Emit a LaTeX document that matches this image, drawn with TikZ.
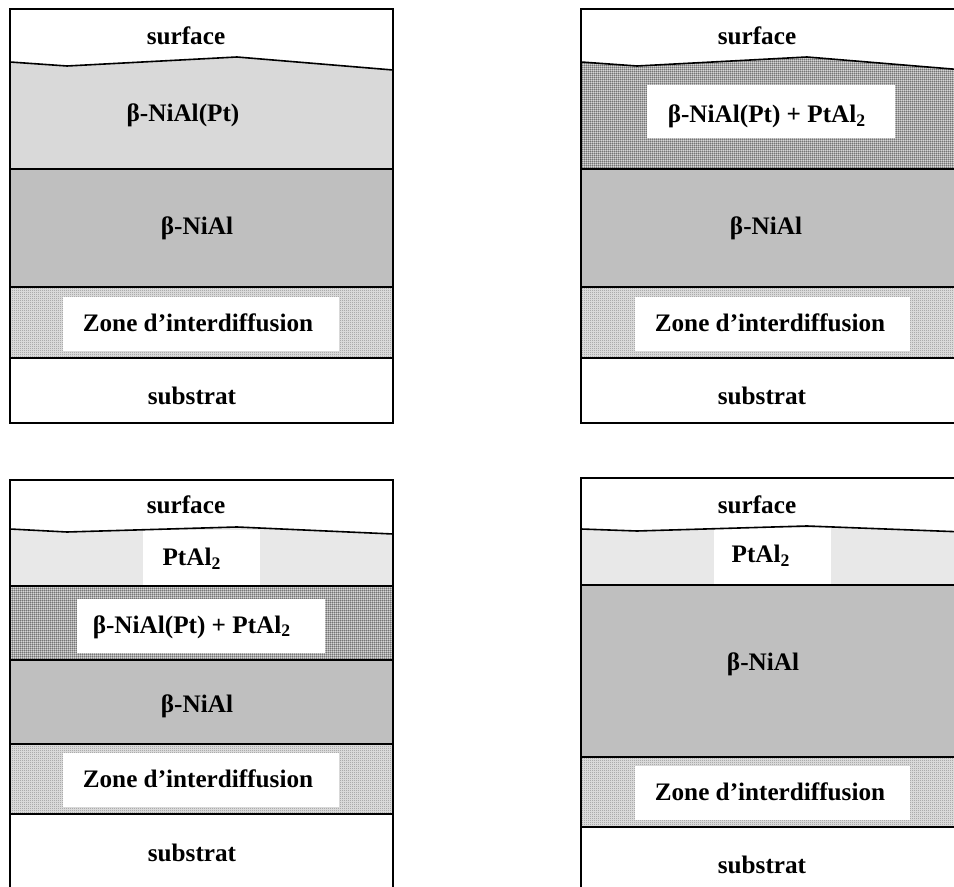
\documentclass[tikz,border=0pt]{standalone}
\usepackage{fontspec}
\setmainfont{Liberation Serif}
\usetikzlibrary{patterns}
\pgfdeclarepatternformonly{finegrid}{\pgfpointorigin}{\pgfqpoint{1.1pt}{1.1pt}}{\pgfqpoint{1.1pt}{1.1pt}}{%
  \pgfpathrectangle{\pgfpointorigin}{\pgfqpoint{1.1pt}{0.4pt}}%
  \pgfpathrectangle{\pgfpointorigin}{\pgfqpoint{0.4pt}{1.1pt}}%
  \pgfusepath{fill}}
\pgfdeclarepatternformonly{finedots}{\pgfpointorigin}{\pgfqpoint{1pt}{1pt}}{\pgfqpoint{1pt}{1pt}}{%
  \pgfpathrectangle{\pgfpointorigin}{\pgfqpoint{0.5pt}{0.5pt}}%
  \pgfpathrectangle{\pgfqpoint{0.5pt}{0.5pt}}{\pgfqpoint{0.5pt}{0.5pt}}%
  \pgfusepath{fill}}
\definecolor{ptnial}{gray}{0.85}
\definecolor{nial}{gray}{0.75}
\definecolor{ptal}{gray}{0.91}
\definecolor{zonebase}{gray}{0.90}
\definecolor{zonedot}{gray}{0.55}
\definecolor{mixbase}{gray}{0.84}
\definecolor{mixline}{gray}{0.42}
\tikzset{
  frame/.style={draw=black, line width=0.8pt},
  lbl/.style={anchor=base, font=\fontsize{12.6}{15}\selectfont\bfseries},
  zonefill/.style={pattern=finedots, pattern color=zonedot},
  mixfill/.style={pattern=finegrid, pattern color=mixline}
}
\begin{document}
\begin{tikzpicture}[x=0.5pt, y=-0.5pt]
  \useasboundingbox (0,0) rectangle (954,887);
  \clip (0,0) rectangle (954,887);
  % Panel 1: top left
  \fill[ptnial] (10,62) -- (67,66) -- (237,57) -- (393,70) -- (393,169) -- (10,169) -- cycle;
  \fill[nial] (10,169) rectangle (393,287);
  \fill[zonebase] (10,287) rectangle (393,358); \fill[zonefill] (10,287) rectangle (393,358);
  \fill[white] (63,297) rectangle (339,351);
  \draw[frame] (10,9) rectangle (393,423);
  \draw[frame] (10,62) -- (67,66) -- (237,57) -- (393,70);
  \draw[frame] (10,169) -- (393,169);
  \draw[frame] (10,287) -- (393,287);
  \draw[frame] (10,358) -- (393,358);
  \node[lbl] (surfA) at (186,45) {surface};
  \node[lbl] (ptnialA) at (183,122) {β-NiAl(Pt)};
  \node[lbl] (nialA) at (197,235) {β-NiAl};
  \node[lbl] (zoneA) at (198,332) {Zone d’interdiffusion};
  \node[lbl] (subA) at (192,405) {substrat};
  % Panel 2: top right
  \fill[mixbase] (581,62) -- (637,66) -- (807,57) -- (964,70) -- (964,169) -- (581,169) -- cycle;
  \fill[mixfill] (581,62) -- (637,66) -- (807,57) -- (964,70) -- (964,169) -- (581,169) -- cycle;
  \fill[white] (647,85) rectangle (895,138);
  \fill[nial] (581,169) rectangle (964,287);
  \fill[zonebase] (581,287) rectangle (964,358); \fill[zonefill] (581,287) rectangle (964,358);
  \fill[white] (635,297) rectangle (910,351);
  \draw[frame] (581,9) rectangle (964,423);
  \draw[frame] (581,62) -- (637,66) -- (807,57) -- (964,70);
  \draw[frame] (581,169) -- (964,169);
  \draw[frame] (581,287) -- (964,287);
  \draw[frame] (581,358) -- (964,358);
  \node[lbl] (surfB) at (757,45) {surface};
  \node[lbl] (mixB) at (767,123) {β-NiAl(Pt) + PtAl\textsubscript{2}};
  \node[lbl] (nialB) at (766,235) {β-NiAl};
  \node[lbl] (zoneB) at (770,332) {Zone d’interdiffusion};
  \node[lbl] (subB) at (762,405) {substrat};
  % Panel 3: bottom left
  \fill[ptal] (10,529) -- (67,532) -- (237,527) -- (393,534) -- (393,586) -- (10,586) -- cycle;
  \fill[white] (143,530) rectangle (260,586);
  \fill[mixbase] (10,586) rectangle (393,660); \fill[mixfill] (10,586) rectangle (393,660);
  \fill[white] (77,599) rectangle (325,653);
  \fill[nial] (10,660) rectangle (393,744);
  \fill[zonebase] (10,744) rectangle (393,814); \fill[zonefill] (10,744) rectangle (393,814);
  \fill[white] (63,753) rectangle (339,807);
  \draw[frame] (10,900) -- (10,480) -- (393,480) -- (393,900);
  \draw[frame] (10,529) -- (67,532) -- (237,527) -- (393,534);
  \draw[frame] (10,586) -- (393,586);
  \draw[frame] (10,660) -- (393,660);
  \draw[frame] (10,744) -- (393,744);
  \draw[frame] (10,814) -- (393,814);
  \node[lbl] (surfC) at (186,514) {surface};
  \node[lbl] (ptalC) at (192,566) {PtAl\textsubscript{2}};
  \node[lbl] (mixC) at (192,633) {β-NiAl(Pt) + PtAl\textsubscript{2}};
  \node[lbl] (nialC) at (197,712) {β-NiAl};
  \node[lbl] (zoneC) at (198,787) {Zone d’interdiffusion};
  \node[lbl] (subC) at (192,861) {substrat};
  % Panel 4: bottom right
  \fill[ptal] (581,529) -- (637,531) -- (807,526) -- (964,532) -- (964,585) -- (581,585) -- cycle;
  \fill[white] (714,528) rectangle (831,585);
  \fill[nial] (581,585) rectangle (964,757);
  \fill[zonebase] (581,757) rectangle (964,827); \fill[zonefill] (581,757) rectangle (964,827);
  \fill[white] (635,766) rectangle (910,820);
  \draw[frame] (581,900) -- (581,478) -- (964,478);
  \draw[frame] (581,529) -- (637,531) -- (807,526) -- (964,532);
  \draw[frame] (581,585) -- (964,585);
  \draw[frame] (581,757) -- (964,757);
  \draw[frame] (581,827) -- (964,827);
  \node[lbl] (surfD) at (757,514) {surface};
  \node[lbl] (ptalD) at (761,563) {PtAl\textsubscript{2}};
  \node[lbl] (nialD) at (763,670) {β-NiAl};
  \node[lbl] (zoneD) at (770,800) {Zone d’interdiffusion};
  \node[lbl] (subD) at (762,873) {substrat};
\end{tikzpicture}
\end{document}
